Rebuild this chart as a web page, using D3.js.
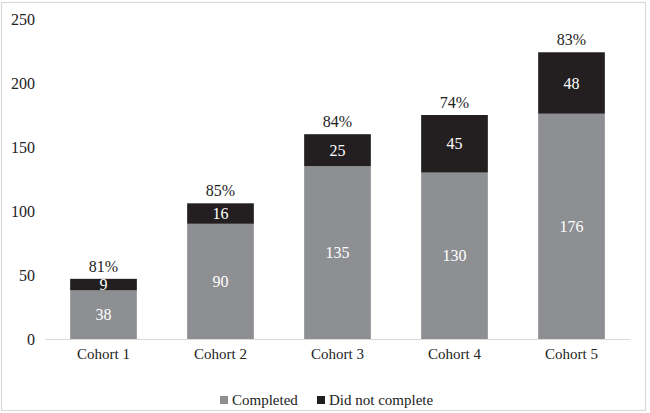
<!DOCTYPE html>
<html><head><meta charset="utf-8">
<script src="https://cdn.jsdelivr.net/npm/d3@7"></script>
<style>body{margin:0;background:#fff}svg{display:block}</style>
</head><body>
<svg id="c" width="650" height="413"></svg>
<script>
const categories = ["Cohort 1","Cohort 2","Cohort 3","Cohort 4","Cohort 5"];
const completed = [38, 90, 135, 130, 176];
const notCompleted = [9, 16, 25, 45, 48];
const pctLabels = ["81%","85%","84%","74%","83%"];
const yTicks = [0, 50, 100, 150, 200, 250];
const seriesNames = ["Completed", "Did not complete"];
const colors = ["#8e8f93", "#231f20"];

const FONT = '"Liberation Serif", monospace';
const svg = d3.select("#c");
svg.append("rect").attr("x",1.5).attr("y",2.5).attr("width",644).attr("height",408)
  .attr("fill","#fff").attr("stroke","#d9d9d9").attr("stroke-width",1.2);

const x = d3.scaleBand().domain(categories).range([45, 630]).paddingInner(0.43).paddingOuter(0.215);
const y = d3.scaleLinear().domain([0, 250]).range([339, 19]);

const data = categories.map((c,i)=>({c, a:completed[i], b:notCompleted[i], p:pctLabels[i]}));
const stack = d3.stack().keys(["a","b"])(data);

const yAxis = d3.axisLeft(y).tickValues(yTicks).tickSize(0).tickPadding(0);
const ya = svg.append("g").attr("transform","translate(35,0)").call(yAxis);
ya.select(".domain").remove();
ya.selectAll("text").style("font-family",FONT).style("font-size","16px").attr("fill","#222");

stack.forEach((s,si)=>{
  svg.append("g").selectAll("rect").data(s).join("rect")
    .attr("x", d=>x(d.data.c)).attr("width", x.bandwidth())
    .attr("y", d=>y(d[1])).attr("height", d=>y(d[0])-y(d[1]))
    .attr("fill", colors[si]);
  svg.append("g").selectAll("text").data(s).join("text")
    .attr("x", d=>x(d.data.c)+x.bandwidth()/2)
    .attr("y", d=>(y(d[0])+y(d[1]))/2)
    .attr("dy","0.35em").attr("text-anchor","middle")
    .style("font-family",FONT).style("font-size","16px").attr("fill","#fff")
    .text(d=>d[1]-d[0]);
});

svg.append("g").selectAll("text").data(data).join("text")
  .attr("x", d=>x(d.c)+x.bandwidth()/2).attr("y", d=>y(d.a+d.b)-7)
  .attr("text-anchor","middle").style("font-family",FONT).style("font-size","16px").attr("fill","#222")
  .text(d=>d.p);

const xAxis = d3.axisBottom(x).tickSize(0).tickPadding(9);
const xa = svg.append("g").attr("transform","translate(0,339)").call(xAxis);
xa.select(".domain").attr("stroke","#d9d9d9").attr("stroke-width",1.2);
xa.selectAll("text").style("font-family",FONT).style("font-size","15px").attr("fill","#222");

const legX = [220, 317];
const lg = svg.append("g");
seriesNames.forEach((n,i)=>{
  lg.append("rect").attr("x",legX[i]).attr("y",396).attr("width",8).attr("height",8).attr("fill",colors[i]);
  lg.append("text").attr("x",legX[i]+12).attr("y",405).style("font-family",FONT).style("font-size","15px")
    .attr("fill","#222").text(n);
});
</script>
</body></html>
